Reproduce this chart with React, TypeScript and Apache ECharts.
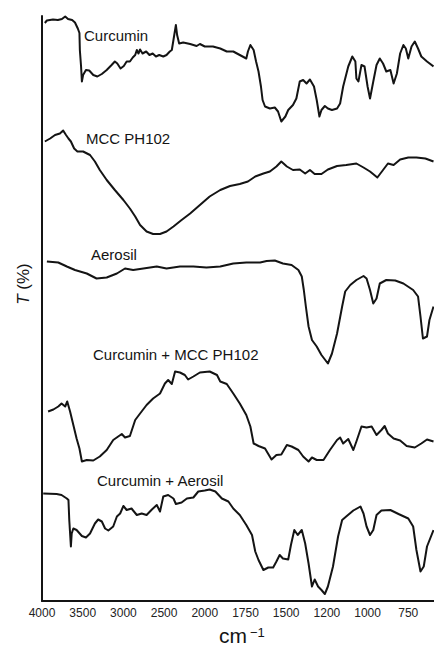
import React, { useEffect, useRef } from "react";
import * as echarts from "echarts";

// Wavenumber tick labels (the scale is expanded below 2000 cm-1, so ticks are evenly spaced by position)
const TICK_VALUES = [4000, 3500, 3000, 2500, 2000, 1750, 1500, 1200, 1000, 750];
const WN_END = 592;
const Y_MAX = 117;

const SERIES_NAMES = [
  "Curcumin",
  "MCC PH102",
  "Aerosil",
  "Curcumin + MCC PH102",
  "Curcumin + Aerosil",
];

// [wavenumber (cm-1), transmittance (offset, a.u.)]
const curcumin = [
  [3965, 115.6], [3940, 116.1], [3865, 116.3], [3805, 116.2], [3755, 116.4], [3715, 116.9], [3680, 116.4],
  [3630, 116.2], [3595, 115.7], [3560, 114.5], [3540, 113.6], [3535, 110.2], [3520, 106.9], [3510, 103.9],
  [3495, 105.2], [3460, 106.2], [3420, 106.1], [3370, 105.2], [3320, 104.9], [3265, 105.4], [3205, 106.2],
  [3145, 107.2], [3105, 107.9], [3075, 107.5], [3035, 106.5], [2995, 107], [2960, 107.9], [2920, 107.9],
  [2885, 108.7], [2855, 109.2], [2835, 110.2], [2815, 109.5], [2795, 110.3], [2765, 109.5], [2720, 109.9],
  [2680, 109.2], [2640, 109.5], [2600, 108.9], [2560, 109.2], [2510, 108.9], [2470, 109.2], [2430, 109.9],
  [2405, 110.2], [2385, 112.2], [2355, 115.2], [2340, 113.2], [2315, 111.5], [2265, 111.7], [2180, 111.4],
  [2100, 111], [2060, 111.4], [2000, 110.9], [1950, 110.9], [1905, 110.5], [1865, 109.9], [1825, 109.9],
  [1785, 109.2], [1745, 108.5], [1735, 109.9], [1720, 111.2], [1700, 110.2], [1685, 107.9], [1670, 105.9],
  [1655, 102.9], [1645, 100.2], [1630, 98.9], [1600, 98.5], [1570, 98.7], [1550, 97.9], [1530, 95.9],
  [1505, 96.9], [1485, 98.2], [1450, 99.2], [1425, 100.5], [1400, 103.9], [1375, 104.2], [1350, 103.5],
  [1325, 104.3], [1295, 102.9], [1275, 100.2], [1255, 96.9], [1240, 98.2], [1215, 99], [1195, 98.5],
  [1175, 98.2], [1150, 98.5], [1135, 99.5], [1120, 102.9], [1095, 106.9], [1075, 108.9], [1060, 107.9],
  [1055, 104.5], [1045, 103.9], [1030, 107.2], [1015, 106.9], [1000, 102.9], [985, 100.5], [965, 103.9],
  [945, 107.2], [925, 108.5], [905, 107.5], [885, 105.9], [860, 106.2], [840, 103.5], [820, 105.5],
  [800, 109.5], [780, 111.2], [765, 110.5], [750, 108.5], [730, 110.9], [710, 111.9], [690, 110.5],
  [670, 108.9], [635, 107.9], [595, 106.9],
];

const mcc = [
  [3965, 91.9], [3900, 92.5], [3840, 93.2], [3780, 93.5], [3740, 94.1], [3705, 93.2], [3675, 92.5],
  [3645, 91.9], [3605, 90.5], [3565, 89.9], [3495, 89.9], [3410, 89.2], [3350, 87.9], [3290, 86.2],
  [3205, 84.2], [3105, 82.2], [3000, 80.2], [2920, 78.5], [2855, 76.9], [2795, 75.2], [2715, 73.9],
  [2635, 73.4], [2550, 73.4], [2470, 73.9], [2385, 74.9], [2285, 76.2], [2180, 77.5], [2060, 79.2],
  [1970, 80.9], [1905, 82.2], [1845, 83], [1785, 83.4], [1735, 83.9], [1690, 84.9], [1640, 85.5],
  [1600, 85.9], [1560, 86.9], [1530, 87.9], [1495, 86.9], [1450, 86.2], [1400, 86.3], [1360, 85.5],
  [1325, 86.2], [1290, 85.4], [1240, 85.4], [1195, 86.3], [1150, 87], [1105, 87.2], [1055, 87.5],
  [1020, 86.7], [985, 85.9], [940, 84.7], [905, 86.2], [875, 87.5], [840, 87.2], [800, 88.3],
  [750, 88.7], [700, 88.7], [645, 88.5], [595, 87.9],
];

const aerosil = [
  [3940, 67.9], [3800, 67.7], [3695, 66.9], [3595, 66.2], [3450, 65.5], [3330, 64.5], [3205, 64.7],
  [3080, 65.5], [2980, 66.5], [2880, 66.2], [2755, 66.5], [2590, 66.9], [2470, 66.5], [2305, 66.9],
  [2140, 66.9], [1990, 66.7], [1905, 66.9], [1825, 67.5], [1745, 67.7], [1660, 67.7], [1620, 68],
  [1570, 68.1], [1520, 67.5], [1460, 67.2], [1410, 66.2], [1385, 64.9], [1370, 62.2], [1355, 58.9],
  [1335, 54.9], [1310, 52.2], [1275, 50.9], [1240, 49.2], [1195, 47.5], [1175, 49.5], [1150, 53.5],
  [1125, 58.9], [1110, 61.9], [1085, 63.2], [1055, 64.2], [1020, 65], [1005, 64.5], [985, 62.2],
  [965, 59.5], [945, 60.5], [925, 63.5], [885, 64.2], [830, 64.1], [780, 63.5], [720, 62.2],
  [690, 60.9], [675, 56.9], [660, 52.5], [635, 52.9], [620, 56.2], [595, 58.9],
];

const curcuminMcc = [
  [3925, 37.9], [3860, 38.3], [3800, 38.9], [3760, 39.5], [3715, 38.9], [3690, 39.9], [3655, 37.9],
  [3615, 35.2], [3575, 32.5], [3540, 30.5], [3510, 27.9], [3450, 28.2], [3370, 28.1], [3290, 28.9],
  [3205, 30.2], [3125, 32.2], [3020, 33.4], [2980, 32.7], [2920, 33], [2855, 36.2], [2795, 37.5],
  [2715, 39.2], [2635, 40.5], [2550, 41.5], [2490, 43.5], [2450, 44.2], [2405, 43.4], [2365, 45.9],
  [2305, 45.7], [2245, 45.2], [2205, 44.3], [2140, 44.9], [2060, 45.7], [1970, 45.9], [1925, 45.2],
  [1905, 43.9], [1865, 43.4], [1825, 41.5], [1785, 39.5], [1745, 37.2], [1720, 34.9], [1700, 31.5],
  [1670, 31], [1630, 30.5], [1590, 28.3], [1560, 29.2], [1530, 29.3], [1495, 31.2], [1460, 30.9],
  [1410, 30.2], [1375, 28.9], [1335, 27.9], [1310, 28.7], [1275, 28.2], [1225, 28.2], [1185, 30.2],
  [1150, 32.2], [1135, 32.7], [1120, 31.5], [1095, 32.4], [1070, 30.2], [1055, 31.9], [1030, 34.9],
  [1005, 34.7], [975, 34.9], [945, 33.2], [915, 34.2], [895, 35], [875, 33.5], [840, 32.5],
  [800, 32.1], [760, 31], [710, 30.7], [670, 31.5], [635, 32.3], [595, 31.9],
];

const curcuminAerosil = [
  [3985, 21.5], [3820, 21.4], [3760, 21.2], [3695, 20.5], [3675, 20.2], [3665, 16.2], [3645, 10.9],
  [3635, 13.5], [3615, 14.5], [3575, 14.2], [3510, 13], [3460, 12.7], [3410, 13.5], [3350, 15.5],
  [3310, 16.3], [3265, 15.9], [3225, 14.5], [3185, 14.1], [3125, 14.9], [3080, 16.9], [3040, 17.5],
  [3000, 19], [2960, 18.2], [2900, 18.5], [2835, 17.2], [2775, 17.5], [2715, 17.2], [2650, 18.3],
  [2590, 19.2], [2550, 17.9], [2510, 20.9], [2450, 21.2], [2385, 20.5], [2355, 19.4], [2285, 19.7],
  [2220, 20.5], [2140, 20.7], [2080, 21.9], [2000, 22.1], [1970, 22.3], [1935, 21.9], [1895, 20.5],
  [1855, 19.9], [1825, 18.5], [1785, 17.2], [1745, 15.2], [1710, 13.2], [1690, 9.9], [1670, 8.2],
  [1640, 6.2], [1610, 6.7], [1580, 6.7], [1560, 7.9], [1540, 9.2], [1520, 8.5], [1485, 8.3],
  [1465, 11.2], [1440, 14.2], [1415, 13.2], [1385, 14.2], [1360, 11.5], [1335, 7.5], [1310, 2.9],
  [1290, 4.3], [1265, 2.9], [1240, 2.2], [1215, 1.4], [1195, 2.9], [1170, 6.9], [1145, 12.9],
  [1125, 16.2], [1105, 16.9], [1070, 18.1], [1035, 18.9], [1020, 17.5], [1005, 14.9], [985, 13.2],
  [965, 14.2], [945, 17.2], [915, 18.1], [860, 18.2], [810, 17.4], [750, 16.5], [720, 14.9],
  [700, 10.2], [675, 5.9], [655, 6.9], [635, 10.9], [595, 14.2],
];

const SPECTRA = [curcumin, mcc, aerosil, curcuminMcc, curcuminAerosil];

// Label placement (left edge, vertical centre) for each spectrum's name
const LABEL_POS = [
  [84, 35],
  [86, 138],
  [91, 254],
  [93, 354],
  [97, 480],
];

const FONT = "'Liberation Sans', Arial, Helvetica, sans-serif";
const INK = "#141414";

// Map a wavenumber onto the piecewise axis position between tick values
function wnToPos(wn: number): number {
  for (let i = 0; i < TICK_VALUES.length - 1; i++) {
    const a = TICK_VALUES[i];
    const b = TICK_VALUES[i + 1];
    if (wn >= b) return i + (a - wn) / (a - b);
  }
  const n = TICK_VALUES.length;
  const a = TICK_VALUES[n - 2];
  const b = TICK_VALUES[n - 1];
  return n - 1 + (b - wn) / (a - b);
}

export default function App() {
  const ref = useRef<HTMLDivElement>(null);

  useEffect(() => {
    if (!ref.current) return;
    const chart = echarts.init(ref.current, null, { renderer: "svg" });

    const series = SPECTRA.map((spec, i) => ({
      type: "line" as const,
      name: SERIES_NAMES[i],
      data: spec.map(([wn, t]) => [wnToPos(wn), t]),
      showSymbol: false,
      symbol: "none",
      smooth: false,
      lineStyle: { color: INK, width: 2, join: "round" },
      silent: true,
    }));

    const labelTexts = SERIES_NAMES.map((name, i) => ({
      type: "text" as const,
      x: LABEL_POS[i][0],
      y: LABEL_POS[i][1],
      style: {
        text: name,
        fill: INK,
        font: `15px ${FONT}`,
        align: "left",
        verticalAlign: "middle",
      },
    }));

    chart.setOption({
      animation: false,
      backgroundColor: "#ffffff",
      grid: { left: 42, right: 0, top: 16, bottom: 46 },
      xAxis: {
        type: "value",
        min: 0,
        max: wnToPos(WN_END),
        interval: 1,
        axisLine: { show: true, onZero: false, lineStyle: { color: INK, width: 2 } },
        axisTick: { show: false },
        splitLine: { show: false },
        axisLabel: {
          show: true,
          margin: 6,
          color: "#222",
          fontSize: 12,
          fontFamily: FONT,
          showMaxLabel: false,
          formatter: (v: number) => {
            const idx = Math.round(v);
            if (Math.abs(v - idx) > 1e-6) return "";
            return TICK_VALUES[idx] !== undefined ? String(TICK_VALUES[idx]) : "";
          },
        },
      },
      yAxis: {
        type: "value",
        min: 0,
        max: Y_MAX,
        axisLine: { show: true, lineStyle: { color: INK, width: 2 } },
        axisTick: { show: false },
        axisLabel: { show: false },
        splitLine: { show: false },
      },
      series,
      graphic: [
        ...labelTexts,
        {
          type: "text",
          x: 23,
          y: 284,
          rotation: Math.PI / 2,
          style: {
            text: "{i|T} (%)",
            fill: INK,
            font: `17px ${FONT}`,
            align: "center",
            verticalAlign: "middle",
            rich: {
              i: { fontStyle: "italic", fontSize: 17, fontFamily: FONT, fill: INK },
            },
          },
        },
        {
          type: "text",
          x: 219,
          y: 635.5,
          style: {
            text: "cm",
            fill: INK,
            font: `21px ${FONT}`,
            align: "left",
            verticalAlign: "middle",
          },
        },
        {
          type: "text",
          x: 250,
          y: 632.5,
          style: {
            text: "\u22121",
            fill: INK,
            font: `13px ${FONT}`,
            align: "left",
            verticalAlign: "middle",
          },
        },
      ],
    });

    return () => chart.dispose();
  }, []);

  return (
    <div
      ref={ref}
      style={{ position: "fixed", left: 0, top: 0, width: 434, height: 647, background: "#fff" }}
    />
  );
}
